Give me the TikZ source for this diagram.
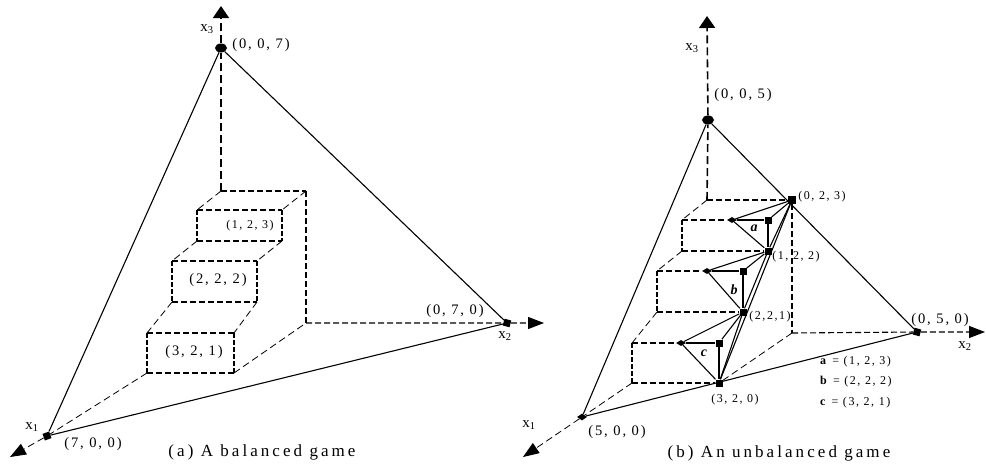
\documentclass[tikz,border=0pt]{standalone}
\usepackage{fontspec}
\setmainfont{Liberation Serif}
\newfontfamily\trackfont[LetterSpace=13]{Liberation Serif}
\newfontfamily\capfont[LetterSpace=18]{Liberation Serif}
\usetikzlibrary{arrows.meta,shapes.geometric}

\begin{document}
\begin{tikzpicture}[x=1pt,y=-1pt,font=\trackfont,
  thindash/.style={ink, line width=0.8pt, dash pattern=on 7pt off 4pt},
  edgedash/.style={ink, line width=1.1pt, dash pattern=on 6pt off 3pt},
  sidedash/.style={ink, line width=1.9pt, dash pattern=on 4.5pt off 2.5pt},
  axisdash/.style={ink, line width=1.6pt, dash pattern=on 8pt off 4pt},
  face/.style={ink, line width=1.1pt},
  heavy/.style={ink, line width=1.9pt},
  uptip/.style={-{Triangle[length=12pt,width=16pt]}},
  sidetip/.style={-{Triangle[length=16pt,width=12pt]}},
  sqmark/.style={rectangle, fill=ink, inner sep=0pt, minimum size=7pt},
  dimark/.style={diamond, fill=ink, inner sep=0pt, minimum width=10pt, minimum height=6pt},
  ovmark/.style={ellipse, fill=ink, inner sep=0pt, minimum width=12pt, minimum height=9pt},
  lbl/.style={ink, inner sep=0pt, font=\fontsize{14.5}{14.5}\selectfont\trackfont},
  small/.style={ink, inner sep=0pt, font=\fontsize{12}{12}\selectfont\trackfont},
  captext/.style={ink, inner sep=0pt, font=\fontsize{17}{17}\selectfont\capfont}]
  \definecolor{ink}{RGB}{0,0,0}

  \useasboundingbox (0,0) rectangle (986,469);

  % (a) balanced game
  \coordinate (LO) at (221,191);
  \coordinate (LBR) at (306,191);
  \coordinate (LBB) at (306,323);
  \coordinate (L3) at (221,6);
  \coordinate (L1) at (10,457);
  \coordinate (L2) at (544,323);
  \node[ovmark] (Ltop) at (221,48) {};
  \node[sqmark, rotate=20] (Lx1) at (47,436) {};
  \node[sqmark, rotate=-15] (Lx2) at (507,323) {};

  \foreach \b/\l/\r/\t/\u in {1/197/282/210/241, 2/172/257/261/302, 3/147/234/333/373} {
    \coordinate (Lb\b tl) at (\l,\t);
    \coordinate (Lb\b tr) at (\r,\t);
    \coordinate (Lb\b bl) at (\l,\u);
    \coordinate (Lb\b br) at (\r,\u);
    \draw[edgedash] (Lb\b tl) -- (Lb\b tr);
    \draw[edgedash] (Lb\b bl) -- (Lb\b br);
    \draw[sidedash] (Lb\b tl) -- (Lb\b bl);
    \draw[sidedash] (Lb\b tr) -- (Lb\b br);
  }

  \draw[thindash] (LO) -- (Lb1tl);
  \draw[thindash] (LBR) -- (Lb1tr);
  \draw[thindash] (Lb1bl) -- (Lb2tl);
  \draw[thindash] (Lb1br) -- (Lb2tr);
  \draw[thindash] (Lb2bl) -- (Lb3tl);
  \draw[thindash] (Lb2br) -- (Lb3tr);
  \draw[thindash] (Lb3bl) -- (Lx1);
  \draw[thindash] (Lb3br) -- (LBB);
  \draw[edgedash] (LO) -- (LBR);
  \draw[edgedash] (LBR) -- (LBB);
  \draw[edgedash] (LBB) -- (Lx2);
  \draw[edgedash, sidetip] (Lx2) -- (L2);
  \draw[thindash, sidetip] (Lx1) -- (L1);
  \draw[axisdash] (LO) -- (Ltop);
  \draw[axisdash, uptip] (Ltop) -- (L3);
  \draw[face] (Ltop) -- (Lx1);
  \draw[face] (Lx1) -- (Lx2);
  \draw[face] (Lx2) -- (Ltop);

  % (b) unbalanced game
  \coordinate (RO) at (707,200);
  \coordinate (RBB) at (792,333);
  \coordinate (R3) at (707,16);
  \coordinate (R1) at (523,457);
  \coordinate (R2) at (985,332);
  \node[ovmark] (Rtop) at (708,120) {};
  \node[dimark, minimum width=10pt, minimum height=7pt] (Rx1) at (582,417) {};
  \node[sqmark, rotate=-15] (Rx2) at (917,332) {};
  \node[sqmark, minimum size=8pt] (P023) at (792,200) {};

  \foreach \b/\l/\p/\q/\t/\u/\c in {1/682/732/768/220/251/P122, 2/657/707/743/271/312/P221, 3/632/681/719/343/383/P320} {
    \coordinate (Rb\b tl) at (\l,\t);
    \coordinate (Rb\b bl) at (\l,\u);
    \node[dimark] (Rd\b) at (\p,\t) {};
    \node[sqmark] (Rs\b) at (\q,\t) {};
    \node[sqmark] (\c) at (\q,\u) {};
    \draw[edgedash] (Rb\b tl) -- (Rd\b);
    \draw[edgedash] (Rb\b bl) -- (\c);
    \draw[sidedash] (Rb\b tl) -- (Rb\b bl);
    \draw[face] (Rd\b) -- (Rs\b);
    \draw[heavy] (Rs\b) -- (\c);
    \draw[face] (Rd\b) -- (\c);
  }

  \draw[thindash] (RO) -- (Rb1tl);
  \draw[thindash] (Rb1bl) -- (Rb2tl);
  \draw[thindash] (Rb2bl) -- (Rb3tl);
  \draw[thindash] (Rb3bl) -- (Rx1);
  \draw[thindash] (P320) -- (RBB);
  \draw[edgedash] (RO) -- (P023);
  \draw[edgedash] (P023) -- (RBB);
  \draw[edgedash] (RBB) -- (Rx2);
  \draw[edgedash, sidetip] (Rx2) -- (R2);
  \draw[thindash, sidetip] (Rx1) -- (R1);
  \draw[axisdash] (RO) -- (Rtop);
  \draw[axisdash, uptip] (Rtop) -- (R3);

  \foreach \s/\a/\b/\c in {P023/Rd1/Rs1/P122, P122/Rd2/Rs2/P221, P221/Rd3/Rs3/P320} {
    \draw[face] (\s) -- (\a);
    \draw[face] (\s) -- (\b);
    \draw[face] (\s) -- (\c);
  }
  \draw[face] (P023) -- (P320);
  \draw[face] (Rtop) -- (Rx1);
  \draw[face] (Rx1) -- (Rx2);
  \draw[face] (Rx2) -- (Rtop);

  % labels
  \foreach \txt/\px/\py [count=\i] in {
    {(0, 0, 7)}/261/45, {(7, 0, 0)}/93/444, {(0, 7, 0)}/455/311,
    {(2, 2, 2)}/218/280, {(3, 2, 1)}/194/352,
    {(0, 0, 5)}/743/95, {(5, 0, 0)}/617/432, {(0, 5, 0)}/940/320
  } {
    \node[lbl] (pt\i) at (\px,\py) {\txt};
  }
  \foreach \txt/\px/\py [count=\i] in {
    {(1, 2, 3)}/250/226, {(0, 2, 3)}/822/197, {(1, 2, 2)}/796/257,
    {(2,2,1)}/770/317, {(3, 2, 0)}/735/400
  } {
    \node[small] (sp\i) at (\px,\py) {\txt};
  }
  \foreach \n/\px/\py in {3/207/29, 1/32/427, 2/505/336, 3/692/48, 1/529/425, 2/965/346} {
    \node[lbl, font=\fontsize{15}{15}\selectfont] (ax\n-\px) at (\px,\py) {x\textsubscript{\n}};
  }
  \node[small, font=\fontsize{14}{14}\selectfont\bfseries\itshape] (fa) at (754,228) {a};
  \node[small, font=\fontsize{14}{14}\selectfont\bfseries\itshape] (fb) at (734,290) {b};
  \node[small, font=\fontsize{14}{14}\selectfont\bfseries\itshape] (fc) at (704,353) {c};
  \node[small, anchor=west] (keya) at (820,362) {\textbf{a} = (1, 2, 3)};
  \node[small, anchor=west] (keyb) at (820,382) {\textbf{b} = (2, 2, 2)};
  \node[small, anchor=west] (keyc) at (820,403) {\textbf{c} = (3, 2, 1)};

  \node[captext] (capa) at (262,452) {(a) A balanced game};
  \node[captext] (capb) at (779,453) {(b) An unbalanced game};
\end{tikzpicture}
\end{document}
